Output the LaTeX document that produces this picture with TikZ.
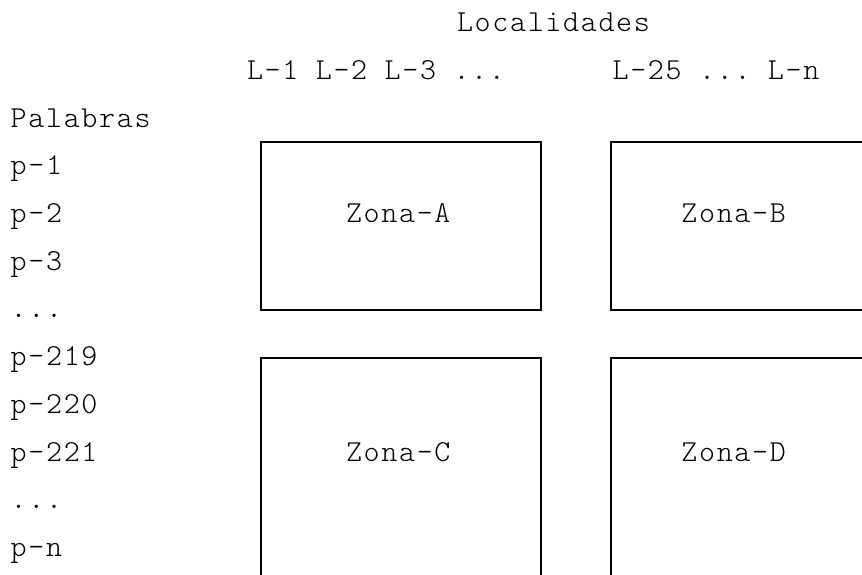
\documentclass[tikz,border=0pt]{standalone}
\usepackage{fontspec}
\setmainfont{Latin Modern Mono Light}[LetterSpace=5.5]
% one fixed-width blank, as wide as a character cell
\newcommand\gap{\hspace*{17.45pt}}
\begin{document}
\begin{tikzpicture}[x=1pt,y=-1pt,
  txt/.style={anchor=base west, inner sep=0pt, font=\fontsize{30.5}{30.5}\selectfont},
  zone/.style={draw=black, line width=1.6pt}]
\useasboundingbox (0,0) rectangle (862,574);
\clip (0,0) rectangle (862,574);
% column header
\node[txt] (loc) at (456.8,31.7) {Localidades};
\node[txt] (lfirst) at (246.8,79.4) {L-1\gap L-2\gap L-3\gap ...};
\node[txt] (llast) at (612.4,79.4) {L-25\gap ...\gap L-n};
% row header and word list
\node[txt] (pal)  at (10.5,127.1) {Palabras};
\node[txt] (p1)   at (10.5,174.8) {p-1};
\node[txt] (p2)   at (10.5,222.5) {p-2};
\node[txt] (p3)   at (10.5,270.2) {p-3};
\node[txt] (d1)   at (10.5,317.9) {...};
\node[txt] (p219) at (10.5,365.6) {p-219};
\node[txt] (p220) at (10.5,413.3) {p-220};
\node[txt] (p221) at (10.5,461.0) {p-221};
\node[txt] (d2)   at (10.5,508.7) {...};
\node[txt] (pn)   at (10.5,556.4) {p-n};
% zones
\draw[zone] (260.7,141.7) rectangle (541,310);
\draw[zone] (610.7,141.7) rectangle (900,310);
\draw[zone] (260.7,358) rectangle (541,620);
\draw[zone] (610.7,358) rectangle (900,620);
\node[txt] (za) at (345.8,222.5) {Zona-A};
\node[txt] (zb) at (681.2,222.5) {Zona-B};
\node[txt] (zc) at (345.8,461.0) {Zona-C};
\node[txt] (zd) at (681.2,461.0) {Zona-D};
\end{tikzpicture}
\end{document}
